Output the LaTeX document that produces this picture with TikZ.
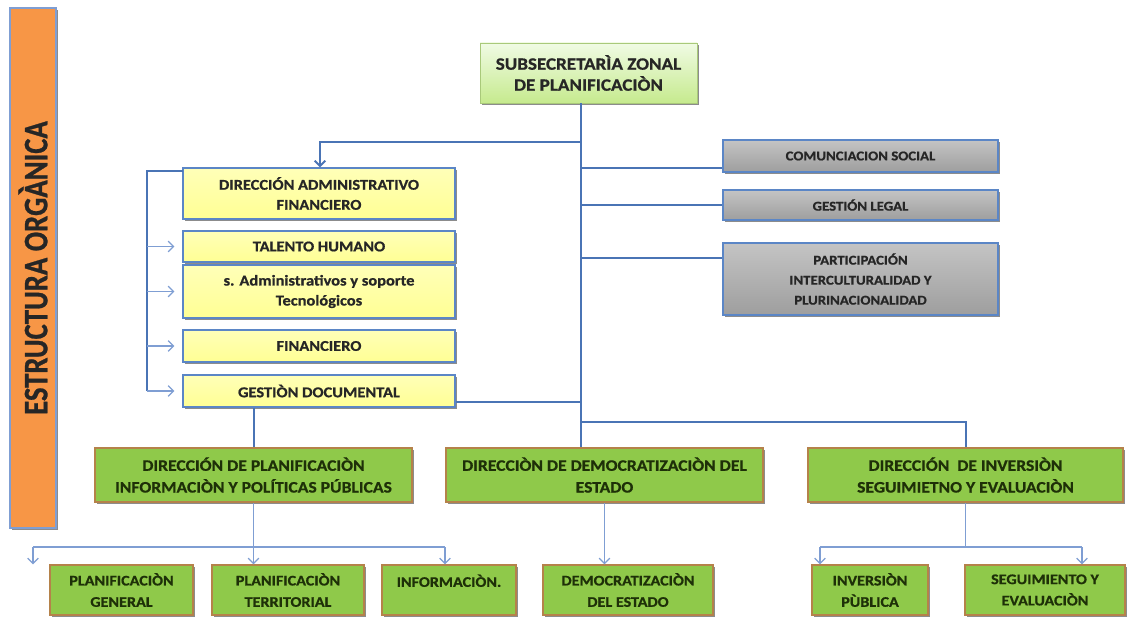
\documentclass[tikz,border=0pt]{standalone}
\usepackage{fontspec}
\usepackage{graphicx}
\setmainfont{Carlito}
\newfontfamily\cf[FakeStretch=1.1,FakeBold=0.8]{Carlito}
\newfontfamily\cfo[FakeBold=0.8]{Carlito}
\usetikzlibrary{arrows.meta,shadows,calc}
\definecolor{lblue}{HTML}{4A74B5}
\definecolor{sblue}{HTML}{7F9ED3}
\definecolor{boxblue}{HTML}{5B86C6}
\definecolor{txt}{HTML}{262626}
\definecolor{gtxt}{HTML}{1E3008}
\definecolor{gfill}{HTML}{8FC94A}
\definecolor{gborder}{HTML}{B5824A}
\definecolor{ofill}{HTML}{F79646}
\definecolor{topborder}{HTML}{A9C97A}
\definecolor{topA}{HTML}{F0FBE4}
\definecolor{topB}{HTML}{C6EA8E}
\definecolor{yA}{HTML}{FFFFB8}
\definecolor{yB}{HTML}{FFFF94}
\definecolor{grA}{HTML}{C4C4C4}
\definecolor{grB}{HTML}{9E9E9E}
\tikzset{
  base/.style={draw, inner sep=0pt, align=center,
    drop shadow={shadow xshift=1.2pt, shadow yshift=-1.2pt, opacity=0.45, fill=black}},
  topbox/.style={base, draw=topborder, top color=topA, bottom color=topB, text=txt,
    font=\cf\bfseries\fontsize{13}{15.75}\selectfont},
  ybox/.style={base, draw=boxblue, line width=0.8pt, top color=yA, bottom color=yB, text=txt,
    font=\cf\bfseries\fontsize{11.2}{15}\selectfont},
  gybox/.style={base, draw=boxblue, line width=0.8pt, top color=grA, bottom color=grB, text=txt,
    font=\cf\bfseries\fontsize{10.1}{15}\selectfont},
  grbox/.style={base, draw=gborder, line width=0.8pt, fill=gfill, text=gtxt,
    font=\cf\bfseries\fontsize{12}{16.3}\selectfont},
  lowbox/.style={base, draw=gborder, line width=0.8pt, fill=gfill, text=gtxt,
    font=\cf\bfseries\fontsize{11}{16}\selectfont},
  obox/.style={base, draw=sblue, line width=0.8pt, fill=ofill, text=txt,
    font=\cfo\bfseries\fontsize{21.5}{24}\selectfont},
  conn/.style={draw=lblue, line width=1.5pt},
  arr/.style={conn, -{Straight Barb[length=4pt,width=8pt]}},
  subline/.style={draw=sblue, line width=1pt},
  subarr/.style={subline, -{Straight Barb[length=4pt,width=8pt]}}
}
\begin{document}
\begin{tikzpicture}[x=0.75pt,y=-0.75pt]
\useasboundingbox (0,0) rectangle (1127,617);
\fill[white] (0,0) rectangle (1127,617);

% orange title bar
\node[obox, minimum width=34.5pt, minimum height=390pt] (est) at (33,268)
  {\rotatebox{90}{\scalebox{1}[1.2]{ESTRUCTURA ORGÀNICA}}};

% top
\node[topbox, minimum width=162.75pt, minimum height=45pt] (top) at (588.5,73)
  {SUBSECRETARÌA ZONAL\\DE PLANIFICACIÒN};

% yellow column
\node[ybox, minimum width=204pt, minimum height=38.25pt] (da) at (319,193.5)
  {DIRECCIÓN ADMINISTRATIVO\\FINANCIERO};
\node[ybox, minimum width=204pt, minimum height=23.25pt] (th) at (319,246.5)
  {TALENTO HUMANO};
\node[ybox, minimum width=204pt, minimum height=39.75pt] (sa) at (319,291.5)
  {s. Administrativos y soporte\\Tecnológicos};
\node[ybox, minimum width=204pt, minimum height=24pt] (fi) at (319,346)
  {FINANCIERO};
\node[ybox, minimum width=204pt, minimum height=24pt] (gd) at (319,391)
  {GESTIÒN DOCUMENTAL};

% grey column
\node[gybox, minimum width=206.25pt, minimum height=24pt] (cs) at (860.5,156)
  {COMUNCIACION SOCIAL};
\node[gybox, minimum width=206.25pt, minimum height=22.5pt] (gl) at (860.5,205)
  {GESTIÓN LEGAL};
\node[gybox, minimum width=206.25pt, minimum height=54pt] (pa) at (860.5,279)
  {PARTICIPACIÓN\\INTERCULTURALIDAD Y\\PLURINACIONALIDAD};

% green directions
\node[grbox, minimum width=237.75pt, minimum height=40.5pt] (dp) at (253.5,475)
  {DIRECCIÓN DE PLANIFICACIÒN\\INFORMACIÒN Y POLÍTICAS PÚBLICAS};
\node[grbox, minimum width=237.75pt, minimum height=40.5pt] (dd) at (604.5,475)
  {DIRECCIÒN DE DEMOCRATIZACIÒN DEL\\ESTADO};
\node[grbox, minimum width=236.25pt, minimum height=40.5pt] (di) at (965.5,475)
  {DIRECCIÓN\ \ DE INVERSIÒN\\SEGUIMIETNO Y EVALUACIÒN};

% bottom row
\node[lowbox, minimum width=107.25pt, minimum height=37.5pt] (pg) at (121.5,590)
  {PLANIFICACIÒN\\GENERAL};
\node[lowbox, minimum width=114pt, minimum height=37.5pt] (pt) at (288,590)
  {PLANIFICACIÒN\\TERRITORIAL};
\node[lowbox, minimum width=100.5pt, minimum height=37.5pt, text depth=14pt] (inf) at (449,590)
  {INFORMACIÒN.};
\node[lowbox, minimum width=127.5pt, minimum height=37.5pt] (de) at (628,590)
  {DEMOCRATIZACIÒN\\DEL ESTADO};
\node[lowbox, minimum width=87pt, minimum height=37.5pt] (ip) at (870,590)
  {INVERSIÒN\\PÙBLICA};
\node[lowbox, minimum width=120pt, minimum height=37.5pt] (se) at (1045,590)
  {SEGUIMIENTO Y\\EVALUACIÒN};

% coordinates
\coordinate (tr) at (581,0);
\coordinate (j1) at (581,142);
\coordinate (ax) at (320,142);
\coordinate (bx) at (147,0);
\coordinate (b0) at (183,171);
\coordinate (j2) at (581,422);
\coordinate (r1) at ([yshift=-9pt]cs.west);
\coordinate (r3) at ([yshift=15.75pt]pa.west);
\coordinate (g1) at ([yshift=-8.25pt]gd.east);
\coordinate (h1) at (33,547);
\coordinate (h2) at (445,547);
\coordinate (k1) at (820,547);
\coordinate (k2) at (1082,547);

% trunk and branches
\draw[conn] (top.south -| tr) -- (dd.north -| tr);
\draw[arr] (j1) -- (ax) -- (ax |- da.north);
\draw[conn] (r1 -| tr) -- (r1);
\draw[conn] (gl.west -| tr) -- (gl.west);
\draw[conn] (r3 -| tr) -- (r3);
\draw[conn] (g1) -- (g1 -| tr);
\draw[conn] (j2) -| (di.north);
\draw[conn] (gd.south -| dp.north) -- (dp.north);

% bracket
\draw[conn] (b0) -- (b0 -| bx) -- (gd.west -| bx);
\foreach \n in {th,sa,fi,gd}
  \draw[subarr, shorten >=6pt] (\n.west -| bx) -- (\n.west);

% lower connectors
\draw[subarr] (dp.south) -- (dp.south |- pt.north);
\draw[subline] (h1) -- (h2);
\draw[subarr] (h1) -- (h1 |- pg.north);
\draw[subarr] (h2) -- (h2 |- inf.north);
\draw[subarr] (dd.south) -- (dd.south |- de.north);
\draw[subline] (di.south) -- (di.south |- k1);
\draw[subline] (k1) -- (k2);
\draw[subarr] (k1) -- (k1 |- ip.north);
\draw[subarr] (k2) -- (k2 |- se.north);
\end{tikzpicture}
\end{document}
